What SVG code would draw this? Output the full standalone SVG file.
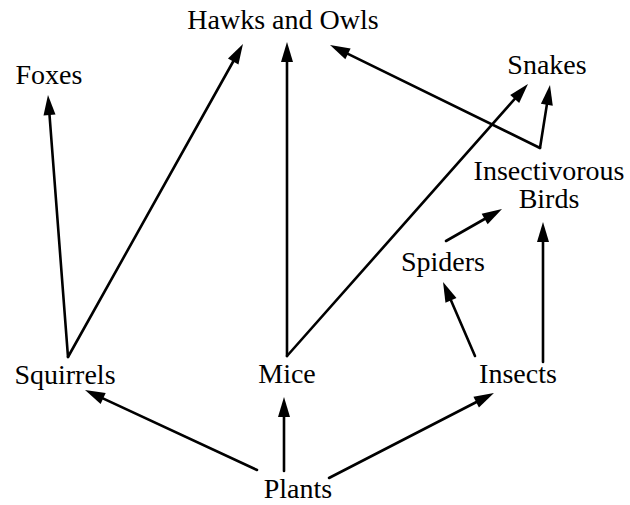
<svg xmlns="http://www.w3.org/2000/svg" width="630" height="505" viewBox="0 0 630 505">
<style>
text{font-family:"Liberation Serif","Times New Roman",serif;font-size:28px;fill:#000;text-anchor:middle}
.e{stroke:#000;stroke-width:2.6;fill:none;stroke-linecap:round;marker-end:url(#ah)}
</style>
<defs>
<marker id="ah" markerUnits="userSpaceOnUse" markerWidth="20" markerHeight="12" refX="8" refY="6" orient="auto" overflow="visible">
<path d="M0,0 L20,6 L0,12 z" fill="#000"/>
</marker>
</defs>
<rect width="630" height="505" fill="#fff"/>
<g id="edges">
<line class="e" x1="68" y1="357" x2="48.9" y2="107"/>
<line class="e" x1="68" y1="357" x2="237.1" y2="54.5"/>
<line class="e" x1="287" y1="356" x2="287" y2="54"/>
<line class="e" x1="287" y1="356" x2="520" y2="93"/>
<line class="e" x1="540" y1="148" x2="340.8" y2="50.3"/>
<line class="e" x1="540" y1="148" x2="548.1" y2="96.9"/>
<line class="e" x1="446" y1="241" x2="491.6" y2="215"/>
<line class="e" x1="475" y1="356" x2="447.8" y2="293"/>
<line class="e" x1="543" y1="362" x2="543" y2="234"/>
<line class="e" x1="284" y1="471" x2="284" y2="409"/>
<line class="e" x1="329" y1="478" x2="483.3" y2="398.5"/>
<line class="e" x1="257" y1="470" x2="95.9" y2="395.1"/>
</g>
<g id="hawks"><text x="283" y="29">Hawks and Owls</text></g>
<g id="foxes"><text x="49" y="84">Foxes</text></g>
<g id="snakes"><text x="547" y="74">Snakes</text></g>
<g id="birds"><text x="549" y="180">Insectivorous</text><text x="549" y="208">Birds</text></g>
<g id="spiders"><text x="443" y="271">Spiders</text></g>
<g id="squirrels"><text x="65" y="384">Squirrels</text></g>
<g id="mice"><text x="287" y="383">Mice</text></g>
<g id="insects"><text x="518" y="383">Insects</text></g>
<g id="plants"><text x="298" y="498">Plants</text></g>
</svg>
